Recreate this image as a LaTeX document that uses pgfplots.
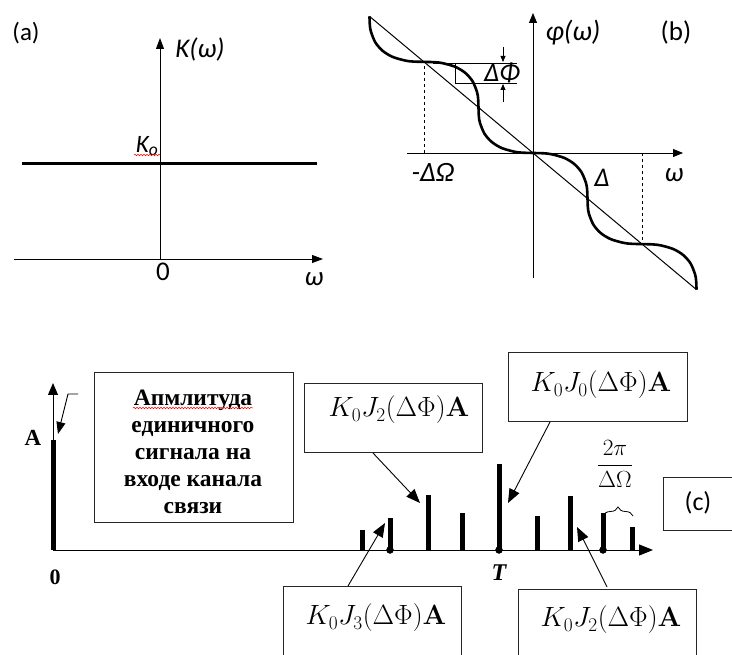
\documentclass[border=0pt]{standalone}
\usepackage[no-math]{fontspec}
\setmainfont{Carlito}
\newfontfamily\serifb{Liberation Serif}
\usepackage{pgfplots}
\pgfplotsset{compat=1.18}
\usetikzlibrary{arrows.meta,decorations.pathreplacing,decorations.pathmorphing}
\begin{document}
\begin{tikzpicture}
\useasboundingbox (0,0) rectangle (732pt,655pt);
% ---------- panel (b): phase characteristic ----------
\begin{axis}[at={(0,0)},anchor=south west,x=17.35pt,y=14.5pt,
  xmin=-30.720,xmax=11.470,ymin=-34.621,ymax=10.552,
  hide axis,clip=false,enlargelimits=false]
\addplot[black,line width=1pt] coordinates {(-9.4248,9.4248) (9.4248,-9.4248)};
\addplot[black,line width=2.6pt,smooth,tension=0.5] coordinates {
(-9.4248,9.4248) (-9.4031,8.8087) (-9.3387,8.3595) (-9.0833,7.6206) (-8.6639,7.0441)
(-8.0874,6.6247) (-7.3485,6.3693) (-6.8993,6.3049) (-6.2832,6.2832)
(-5.6671,6.2615) (-5.2179,6.1971) (-4.4790,5.9417) (-3.9025,5.5223) (-3.4831,4.9458)
(-3.2277,4.2069) (-3.1633,3.7577) (-3.1416,3.1416)
(-3.1199,2.5255) (-3.0555,2.0763) (-2.8001,1.3374) (-2.3807,0.7609) (-1.8042,0.3415)
(-1.0653,0.0861) (-0.6161,0.0217) (0,0)
(0.6161,-0.0217) (1.0653,-0.0861) (1.8042,-0.3415) (2.3807,-0.7609) (2.8001,-1.3374)
(3.0555,-2.0763) (3.1199,-2.5255) (3.1416,-3.1416)
(3.1633,-3.7577) (3.2277,-4.2069) (3.4831,-4.9458) (3.9025,-5.5223) (4.4790,-5.9417)
(5.2179,-6.1971) (5.6671,-6.2615) (6.2832,-6.2832)
(6.8993,-6.3049) (7.3485,-6.3693) (8.0874,-6.6247) (8.6639,-7.0441) (9.0833,-7.6206)
(9.3387,-8.3595) (9.4031,-8.8087) (9.4248,-9.4248)};
\addplot[black,dashed,line width=0.9pt] coordinates {(-6.2832,0) (-6.2832,6.2832)};
\addplot[black,dashed,line width=0.9pt] coordinates {(6.2832,0) (6.2832,-6.2832)};
\end{axis}
% ---------- panel (c): spectrum lines ----------
\begin{axis}[at={(0,0)},anchor=south west,x=1pt,y=1pt,
  xmin=0,xmax=732,ymin=-105,ymax=550,
  hide axis,clip=false,enlargelimits=false]
\addplot[black,ycomb,line width=5pt] coordinates {(53,110)};
\addplot[black,ycomb,line width=5pt] coordinates {(362,20) (390,32) (428,55) (462,37) (499,86) (537,34) (570,54) (603,37) (632,23)};
\addplot[black,only marks,mark=*,mark size=3.5pt] coordinates {(390,0) (499,0) (603,0)};
\end{axis}
% ---------- frame axis in pixel coordinates ----------
\begin{axis}[at={(0,0)},anchor=south west,x=1pt,y=1pt,
  xmin=0,xmax=732,ymin=0,ymax=655,y dir=reverse,
  hide axis,clip=false,enlargelimits=false]
% panel (a)
\addplot[black,line width=3pt] coordinates {(22,164) (317,164)};
\draw[line width=0.9pt,-{Triangle[length=11pt,width=8pt]}] (14,259) -- (323,259);
\draw[line width=0.9pt,-{Triangle[length=11pt,width=8pt]}] (160,259) -- (160,38);
\node[font=\fontsize{25}{28}\selectfont] at (26,33) {(a)};
\node[font=\fontsize{27}{30}\selectfont\itshape] at (200,50) {K(ω)};
\node[font=\fontsize{25}{28}\selectfont\itshape] at (147,146) {K\textsubscript{o}};
\draw[red,line width=0.5pt,decorate,decoration={snake,amplitude=0.8pt,segment length=3pt}] (134,155) -- (160,155);
\node[font=\fontsize{27}{30}\selectfont] at (163,272) {0};
\node[font=\fontsize{27}{30}\selectfont\itshape] at (314,279) {ω};
% panel (b)
\draw[line width=0.9pt,-{Triangle[length=10pt,width=8pt]}] (407,153) -- (683,153);
\draw[line width=0.9pt,-{Triangle[length=10pt,width=8pt]}] (533,278) -- (533,13);
\draw[line width=0.8pt] (433,63) -- (517,63);
\draw[line width=0.8pt] (455,83) -- (517,83);
\draw[line width=0.8pt] (455,63) -- (455,83);
\draw[line width=0.8pt,-{Triangle[length=6pt,width=5pt]}] (503,47) -- (503,62);
\draw[line width=0.8pt,-{Triangle[length=6pt,width=5pt]}] (503,102) -- (503,84);
\node[font=\fontsize{28}{30}\selectfont\itshape] at (573,33) {φ(ω)};
\node[font=\fontsize{27}{30}\selectfont] at (676,33) {(b)};
\node[font=\fontsize{28}{30}\selectfont\itshape] at (433,172) {-ΔΩ};
\node[font=\fontsize{27}{30}\selectfont\itshape] at (502,73) {ΔΦ};
\node[font=\fontsize{27}{30}\selectfont\itshape] at (602,178) {Δ};
\node[font=\fontsize{27}{30}\selectfont\itshape] at (674,175) {ω};
% panel (c)
\draw[line width=1pt,-{Triangle[length=14pt,width=11pt]}] (53,550) -- (653,550);
\draw[line width=1pt,-{Triangle[length=12pt,width=10pt]}] (53,550) -- (53,383);
\draw[line width=0.9pt,-{Triangle[length=12pt,width=9pt]}] (78,394) -- (68,394) -- (58,434);
\node[font=\serifb\bfseries\fontsize{23}{27}\selectfont] at (33,438) {A};
\node[font=\serifb\bfseries\fontsize{22}{26}\selectfont] at (55,577) {0};
\node[font=\serifb\bfseries\itshape\fontsize{24}{28}\selectfont] at (499,573) {T};
\draw[line width=0.9pt,black!85] (94,372) rectangle (293,522);
\node[align=center,font=\serifb\bfseries\fontsize{23.5}{27}\selectfont] at (193,452)
  {Апмлитуда\\единичного\\сигнала на\\входе канала\\связи};
\draw[red,line width=0.5pt,decorate,decoration={snake,amplitude=0.8pt,segment length=3pt}] (133,408) -- (253,408);
\draw[line width=0.9pt,black!85] (304,383) rectangle (482,452);
\node[scale=1.12,font=\fontsize{24}{28}\selectfont] at (399,410) {$K_0J_2(\Delta\Phi)\mathbf{A}$};
\draw[line width=0.9pt,black!85] (508,352) rectangle (687,421);
\node[scale=1.12,font=\fontsize{24}{28}\selectfont] at (601,385) {$K_0J_0(\Delta\Phi)\mathbf{A}$};
\draw[line width=0.9pt,black!85] (283,665) -- (283,586) -- (461,586) -- (461,665);
\node[scale=1.12,font=\fontsize{24}{28}\selectfont] at (376,618) {$K_0J_3(\Delta\Phi)\mathbf{A}$};
\draw[line width=0.9pt,black!85] (518,665) -- (518,589) -- (696,589) -- (696,665);
\node[scale=1.12,font=\fontsize{24}{28}\selectfont] at (611,620) {$K_0J_2(\Delta\Phi)\mathbf{A}$};
\draw[line width=0.9pt,black!85] (740,477) -- (663,477) -- (663,530) -- (740,530);
\node[font=\fontsize{26}{28}\selectfont] at (698,503) {(c)};
\draw[line width=0.9pt,-{Triangle[length=14pt,width=11pt]}] (373,453) -- (420,503);
\draw[line width=0.9pt,-{Triangle[length=14pt,width=11pt]}] (550,422) -- (508,503);
\draw[line width=0.9pt,-{Triangle[length=14pt,width=11pt]}] (348,586) -- (385,523);
\draw[line width=0.9pt,-{Triangle[length=14pt,width=11pt]}] (607,587) -- (577,527);
\node[scale=1.35,font=\fontsize{17}{20}\selectfont] at (615,464) {$\displaystyle\frac{2\pi}{\Delta\Omega}$};
\draw[line width=0.8pt,decorate,decoration={brace,amplitude=9pt}] (603,516) -- (633,516);
\end{axis}
\end{tikzpicture}
\end{document}
